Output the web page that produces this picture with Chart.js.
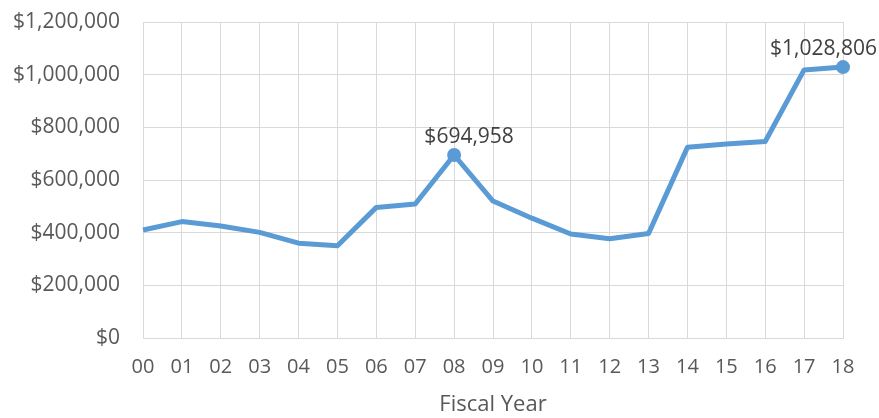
<!DOCTYPE html>
<html>
<head>
<meta charset="utf-8">
<style>
  html, body { margin: 0; padding: 0; background: #fff; }
  #wrap { width: 879px; height: 418px; }
</style>
<script src="https://cdn.jsdelivr.net/npm/chart.js@4/dist/chart.umd.min.js"></script>
</head>
<body>
<div id="wrap"><canvas id="fiscalChart" width="879" height="418"></canvas></div>
<script>
  var years = ['00','01','02','03','04','05','06','07','08','09','10','11','12','13','14','15','16','17','18']
  var amounts = [410000, 442000, 425000, 401000, 360000, 350000, 496000, 509000, 694958, 520000,
                 455000, 395000, 377000, 397000, 724000, 737000, 746000, 1018000, 1028806]
  var labelled = [8, 18]
  var yTicks = [0, 200000, 400000, 600000, 800000, 1000000, 1200000]

  var FONT = '"Open Sans", "Noto Sans", sans-serif'
  var BLUE = '#5b9bd5'

  function money(v){
    return '$' + Math.round(v).toLocaleString('en-US')
  }

  var pointLabels = {
    id: 'pointLabels',
    afterDatasetsDraw: function(chart){
      var ctx = chart.ctx
      var meta = chart.getDatasetMeta(0)
      ctx.save()
      ctx.font = '21px ' + FONT
      ctx.fillStyle = '#404040'
      ctx.textBaseline = 'middle'
      labelled.forEach(function(i){
        var pt = meta.data[i]
        var text = money(amounts[i])
        var w = ctx.measureText(text).width
        var x = pt.x + 15
        if (x + w / 2 > chart.width - 2) x = chart.width - 2 - w / 2
        ctx.textAlign = 'center'
        ctx.fillText(text, x, pt.y - 18)
      })
      ctx.restore()
    }
  }

  new Chart(document.getElementById('fiscalChart'), {
    type: 'line',
    data: {
      labels: years,
      datasets: [{
        data: amounts,
        borderColor: BLUE,
        backgroundColor: BLUE,
        borderWidth: 5,
        tension: 0,
        borderJoinStyle: 'round',
        pointRadius: function(c){ return labelled.indexOf(c.dataIndex) >= 0 ? 7 : 0 },
        pointHoverRadius: 0,
        pointBackgroundColor: BLUE,
        pointBorderWidth: 0
      }]
    },
    options: {
      responsive: false,
      animation: false,
      layout: { padding: { left: 0, right: 36, top: 22, bottom: 0 } },
      plugins: { legend: { display: false }, tooltip: { enabled: false } },
      scales: {
        x: {
          offset: false,
          grid: { color: '#d9d9d9', lineWidth: 1, drawTicks: false },
          border: { color: '#d9d9d9' },
          ticks: { color: '#595959', font: { family: FONT, size: 20 }, padding: 17, maxRotation: 0, autoSkip: false },
          title: { display: true, text: 'Fiscal Year', color: '#595959', font: { family: FONT, size: 22 }, padding: { top: 0, bottom: 0 } },
          afterFit: function(s){ s.height = 80 }
        },
        y: {
          min: 0,
          max: 1200000,
          afterBuildTicks: function(s){ s.ticks = yTicks.map(function(v){ return { value: v } }) },
          grid: { color: '#d9d9d9', lineWidth: 1, drawTicks: false },
          border: { display: false },
          ticks: { color: '#595959', font: { family: FONT, size: 21 }, padding: 23, callback: function(v){ return money(v) } },
          afterFit: function(s){ s.width = 143; s.paddingTop = 0; s.paddingBottom = 0 }
        }
      }
    },
    plugins: [pointLabels]
  })
</script>
</body>
</html>
